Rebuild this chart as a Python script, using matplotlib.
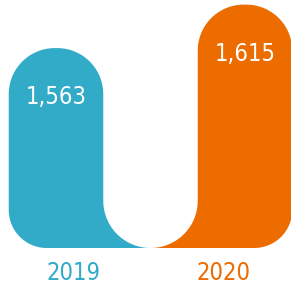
import matplotlib
matplotlib.use("Agg")
import matplotlib.pyplot as plt
import numpy as np
from matplotlib.path import Path
from matplotlib.patches import PathPatch
from matplotlib import font_manager as fm

years = ["2019", "2020"]
values = [1563, 1615]
colors = ["#31abc7", "#ec6c00"]
value_labels = ["1,563", "1,615"]

cond = [f for f in fm.fontManager.ttflist
        if f.name == "DejaVu Sans" and f.stretch == "condensed"
        and f.style == "normal" and f.weight in (400, "normal", "regular", "book")]
if cond:
    FP = fm.FontProperties(fname=cond[0].fname, size=17)
else:
    FP = fm.FontProperties(family="Open Sans", size=17)

W, H = 291, 287
fig = plt.figure(figsize=(W / 100, H / 100), dpi=100)
base_px = 248
ax = fig.add_axes([0, (H - base_px) / H, 1, base_px / H])
y0, y1 = 1324, 1620.5
x_left, x_right = -0.2963, 1.2434
ax.set_xlim(x_left, x_right)
ax.set_ylim(y0, y1)
ax.axis("off")

sx = W / (x_right - x_left)
sy = base_px / (y1 - y0)
bw = 0.5
r_top = 46.0
r_bot = 38.0
gap_r = (1 - bw) * sx / 2
year_offsets = [17, -21]


def arc(cx, cy, r, a0, a1, n=30):
    t = np.radians(np.linspace(a0, a1, n))
    return [(cx + r / sx * np.cos(a), cy + r / sy * np.sin(a)) for a in t]


n = len(values)
for i, (v, c) in enumerate(zip(values, colors)):
    xl, xr = i - bw / 2, i + bw / 2
    pts = []
    if i > 0:
        pts += arc(xl - gap_r / sx, y0 + gap_r / sy, gap_r, 270, 360)
    else:
        pts += arc(xl + r_bot / sx, y0 + r_bot / sy, r_bot, 270, 180)
    pts += arc(xl + r_top / sx, v - r_top / sy, r_top, 180, 90)
    pts += arc(xr - r_top / sx, v - r_top / sy, r_top, 90, 0)
    if i < n - 1:
        pts += arc(xr + gap_r / sx, y0 + gap_r / sy, gap_r, 180, 270)
    else:
        pts += arc(xr - r_bot / sx, y0 + r_bot / sy, r_bot, 0, -90)
    pts.append(pts[0])
    codes = [Path.MOVETO] + [Path.LINETO] * (len(pts) - 2) + [Path.CLOSEPOLY]
    ax.add_patch(PathPatch(Path(pts, codes), facecolor=c, edgecolor="none"))
    ax.annotate(value_labels[i], (i, v), xytext=(0, -49), textcoords="offset pixels",
                ha="center", va="center", color="white", fontproperties=FP)
    ax.annotate(years[i], (i, y0), xytext=(year_offsets[i], -25), textcoords="offset pixels",
                ha="center", va="center", color=c, fontproperties=FP,
                annotation_clip=False)

fig.savefig("out.png", dpi=100)
